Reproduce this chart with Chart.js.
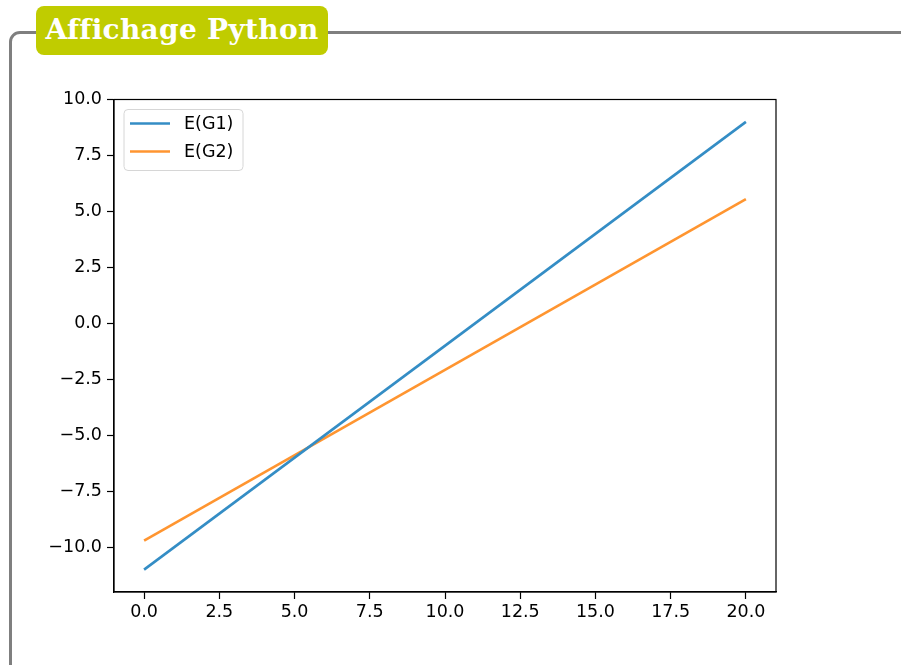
<!DOCTYPE html>
<html>
<head>
<meta charset="utf-8">
<script src="https://cdn.jsdelivr.net/npm/chart.js@4/dist/chart.umd.min.js"></script>
<style>
  html, body { margin: 0; padding: 0; background: #fff; }
  body { width: 901px; height: 665px; position: relative; overflow: hidden; }
  /* cadre gris arrondi */
  #cadre {
    position: absolute; left: 9px; top: 31px; width: 920px; height: 700px;
    border: 3px solid #7f7f7f; border-radius: 11px; box-sizing: border-box;
  }
  #badge {
    position: absolute; left: 36px; top: 6px; width: 292px; height: 49px;
    background: #c0cc00; border-radius: 8px;
    color: #fff; font-family: "DejaVu Serif", "Liberation Serif", serif; font-weight: bold;
    font-size: 28px; line-height: 47px; text-align: center; letter-spacing: 0.3px;
  }
  #zone { position: absolute; left: 20px; top: 84px; width: 770px; height: 565px; }
</style>
</head>
<body>
<div id="cadre"></div>
<div id="badge">Affichage Python</div>
<div id="zone"><canvas id="graphe"></canvas></div>

<script>
// Données
const xValeurs = [0, 20];
const serieG1 = [-11.0, 9.0];
const serieG2 = [-9.7, 5.55];
const labelsSeries = ['E(G1)', 'E(G2)'];
const xTicks = [0, 2.5, 5, 7.5, 10, 12.5, 15, 17.5, 20];
const yTicks = [-10, -7.5, -5, -2.5, 0, 2.5, 5, 7.5, 10];

const couleurs = ['#348dc5', '#ff9530'];
const police = { family: 'DejaVu Sans', size: 17.5 };

// format matplotlib : une décimale et vrai signe moins
function formatTick(v) {
    const s = Math.abs(v).toFixed(1);
    return v < 0 ? '\u2212' + s : s;
}

// cadre complet (4 côtés) + légende encadrée dans la zone du graphe
const pluginCadre = {
    id: 'cadreLegende',
    afterDraw(chart) {
        const { ctx, chartArea: a } = chart;
        ctx.save();
        ctx.strokeStyle = '#000';
        ctx.lineWidth = 1.2;
        ctx.strokeRect(a.left, a.top, a.right - a.left, a.bottom - a.top);

        // boîte de légende
        const bx = a.left + 10, by = a.top + 10, bw = 119, bh = 61;
        ctx.beginPath();
        ctx.roundRect(bx, by, bw, bh, 4);
        ctx.fillStyle = 'rgba(255,255,255,0.8)';
        ctx.fill();
        ctx.strokeStyle = '#d6d6d6';
        ctx.lineWidth = 1;
        ctx.stroke();

        ctx.font = '17.5px "DejaVu Sans"';
        ctx.textBaseline = 'middle';
        chart.data.datasets.forEach((ds, i) => {
            const y = by + 14 + i * 28;
            ctx.beginPath();
            ctx.moveTo(bx + 6, y);
            ctx.lineTo(bx + 46, y);
            ctx.strokeStyle = ds.borderColor;
            ctx.lineWidth = 2.6;
            ctx.stroke();
            ctx.fillStyle = '#000';
            ctx.fillText(ds.label, bx + 60, y + 1);
        });
        ctx.restore();
    }
};

const ctx = document.getElementById('graphe').getContext('2d');
new Chart(ctx, {
    type: 'line',
    data: {
        datasets: [
            {
                label: labelsSeries[0],
                data: xValeurs.map((x, i) => ({ x: x, y: serieG1[i] })),
                borderColor: couleurs[0],
                borderWidth: 2.6,
                pointRadius: 0,
                fill: false
            },
            {
                label: labelsSeries[1],
                data: xValeurs.map((x, i) => ({ x: x, y: serieG2[i] })),
                borderColor: couleurs[1],
                borderWidth: 2.6,
                pointRadius: 0,
                fill: false
            }
        ]
    },
    options: {
        responsive: true,
        maintainAspectRatio: false,
        animation: false,
        layout: { padding: { top: 10, right: 14, left: 0, bottom: 0 } },
        plugins: {
            legend: { display: false },
            tooltip: { enabled: false }
        },
        scales: {
            x: {
                type: 'linear',
                min: -1,
                max: 21,
                afterBuildTicks: (scale) => { scale.ticks = xTicks.map(v => ({ value: v })); },
                afterFit: (scale) => { scale.height = 57; },
                grid: { drawOnChartArea: false, tickLength: 7, color: '#000', tickWidth: 1.2 },
                border: { display: true, color: '#000', width: 1.2 },
                ticks: { font: police, color: '#000', padding: 3, maxRotation: 0, callback: (v) => formatTick(v) }
            },
            y: {
                type: 'linear',
                min: -12,
                max: 10,
                afterBuildTicks: (scale) => { scale.ticks = yTicks.map(v => ({ value: v })); },
                afterFit: (scale) => { scale.width = 94; },
                grid: { drawOnChartArea: false, tickLength: 7, color: '#000', tickWidth: 1.2 },
                border: { display: true, color: '#000', width: 1.2 },
                ticks: { font: police, color: '#000', padding: 5, callback: (v) => formatTick(v) }
            }
        }
    },
    plugins: [pluginCadre]
});
</script>
</body>
</html>
